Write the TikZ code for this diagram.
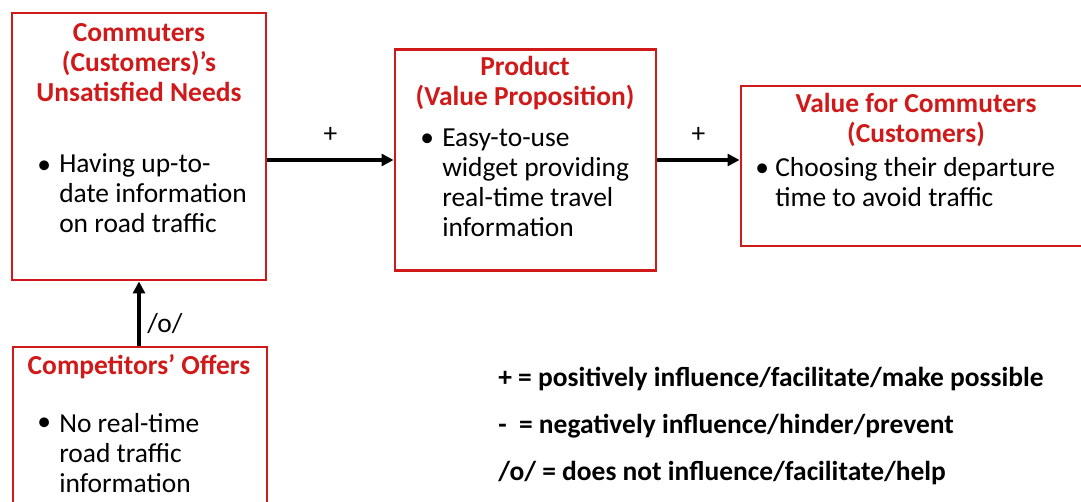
\documentclass[tikz,border=0pt]{standalone}
\usepackage{fontspec}
\setmainfont{Carlito}
\usepackage{tikz}
\usetikzlibrary{positioning,arrows.meta}
\definecolor{boxred}{RGB}{208,26,26}
\tikzset{
  box/.style={draw=boxred, line width=2.2pt, rectangle, inner sep=0pt},
  heading/.style={text=boxred, font=\bfseries\fontsize{20.6}{22.5}\selectfont, align=center, inner sep=0pt, anchor=base},
  body/.style={font=\fontsize{20.6}{22.5}\selectfont, align=left, inner sep=0pt, anchor=base west},
  legend/.style={font=\bfseries\fontsize{20.6}{22.5}\selectfont, inner sep=0pt, anchor=base west},
  link/.style={draw, line width=2.4pt, -{Triangle[length=9pt,width=9pt]}}
}

\begin{document}
\begin{tikzpicture}[x=0.75pt, y=-0.75pt]
	\clip (0,0) rectangle (1081,502);
	
	% boxes
	\node[box, minimum width=190.5pt, minimum height=200.25pt] (needs) at (139,146.5) {};
	\node[box, minimum width=195.75pt, minimum height=165.75pt] (product) at (525.5,160) {};
	\node[box, minimum width=261.75pt, minimum height=120pt] (value) at (915.5,166) {};
	\node[box, minimum width=190.5pt, minimum height=129.75pt] (offers) at (140,433.5) {};
	
	% texts in the boxes (base = last line)
	\node[heading] (needstitle) at (139,102) {Commuters\\(Customers)’s\\Unsatisfied Needs};
	\node[body] (needsdot) at (37,174) {•};
	\node[body] (needstext) at (59,233) {Having up-to-\\date information\\on road traffic};
	
	\node[heading] (producttitle) at (525,106) {Product\\(Value Proposition)};
	\node[body] (productdot) at (420,147) {•};
	\node[body] (producttext) at (442,237) {Easy-to-use\\widget providing\\real-time travel\\information};
	
	\node[heading] (valuetitle) at (916,143) {Value for Commuters\\(Customers)};
	\node[body] (valuedot) at (755,177) {•};
	\node[body] (valuetext) at (775,207) {Choosing their departure\\time to avoid traffic};
	
	\node[heading] (offerstitle) at (139,374) {Competitors’ Offers};
	\node[body] (offersdot) at (37,430) {•};
	\node[body] (offerstext) at (59,492) {No real-time\\road traffic\\information};
	
	% links
	\draw[link] (needs.east |- product.west) -- (product.west)
		node[midway, above=12pt, font=\fontsize{20.6}{22.5}\selectfont, inner sep=0pt] (plusone) {+};
	\draw[link] (product.east) -- (product.east -| value.west)
		node[midway, above=12pt, font=\fontsize{20.6}{22.5}\selectfont, inner sep=0pt] (plustwo) {+};
	\draw[link] (offers.north -| needs.south) -- (needs.south)
		node[pos=0.35, right=5pt, font=\fontsize{20.6}{22.5}\selectfont, inner sep=0pt] (nothing) {/o/};
	
	% legend
	\node[legend] (legplus) at (498,386) {+ = positively influence/facilitate/make possible};
	\node[legend] (legminus) at (498,433) {-\ \ = negatively influence/hinder/prevent};
	\node[legend] (legnone) at (498,480) {/o/ = does not influence/facilitate/help};
\end{tikzpicture}
\end{document}
